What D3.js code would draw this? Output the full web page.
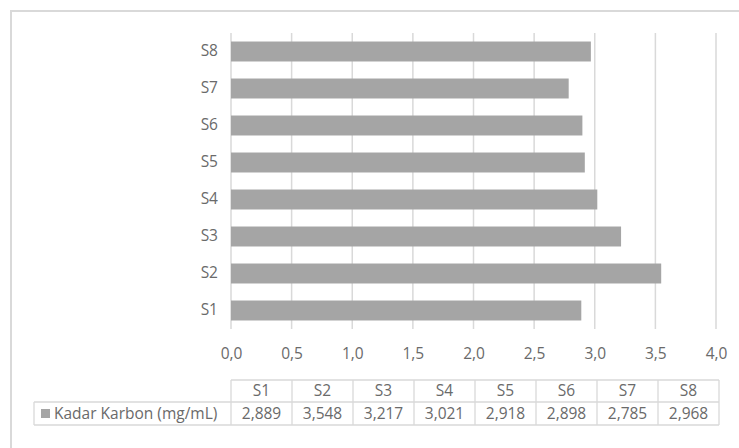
<!DOCTYPE html>
<html>
<head>
<meta charset="utf-8">
<script src="https://cdn.jsdelivr.net/npm/d3@7/dist/d3.min.js"></script>
<style>
  html, body { margin: 0; padding: 0; background: #fff; }
  svg { display: block; font-family: "Open Sans", Lato, "Liberation Sans", sans-serif; }
</style>
</head>
<body>
<svg id="chart" width="739" height="448"></svg>
<script>
// Sample labels and measured carbon content (mg/mL)
const categories = ["S1", "S2", "S3", "S4", "S5", "S6", "S7", "S8"];
const values = [2.889, 3.548, 3.217, 3.021, 2.918, 2.898, 2.785, 2.968];
const valueLabels = ["2,889", "3,548", "3,217", "3,021", "2,918", "2,898", "2,785", "2,968"];
const xTicks = [0, 0.5, 1, 1.5, 2, 2.5, 3, 3.5, 4];
const seriesName = "Kadar Karbon (mg/mL)";

const svg = d3.select("#chart");
const gridColor = "#d9d9d9";
const textColor = "#6a6a6a";
const barColor = "#a5a5a5";
const fontSize = "15.5px";

// Chart frame
svg.append("rect")
  .attr("x", 11).attr("y", 11)
  .attr("width", 800).attr("height", 500)
  .attr("fill", "none")
  .attr("stroke", gridColor)
  .attr("stroke-width", 2);

const plot = { left: 231, right: 716, top: 33, bottom: 329 };

const x = d3.scaleLinear().domain([0, 4]).range([plot.left, plot.right]);
const y = d3.scaleBand()
  .domain(categories.slice().reverse())
  .range([plot.top, plot.bottom])
  .paddingInner(0.46)
  .paddingOuter(0.23);

// Vertical gridlines
svg.append("g")
  .selectAll("line")
  .data(xTicks)
  .join("line")
  .attr("x1", d => x(d)).attr("x2", d => x(d))
  .attr("y1", plot.top).attr("y2", plot.bottom)
  .attr("stroke", gridColor)
  .attr("stroke-width", 1.5);

// Bars
svg.append("g")
  .selectAll("rect")
  .data(categories.map((c, i) => ({ c, v: values[i] })))
  .join("rect")
  .attr("x", x(0))
  .attr("y", d => y(d.c))
  .attr("width", d => x(d.v) - x(0))
  .attr("height", y.bandwidth())
  .attr("fill", barColor);

// Category axis labels
const yAxis = svg.append("g")
  .attr("transform", `translate(${plot.left - 13},0)`)
  .call(d3.axisLeft(y).tickSize(0).tickPadding(0));
yAxis.select(".domain").remove();
yAxis.selectAll("text")
  .attr("fill", textColor)
  .style("font-size", fontSize)
  .style("font-family", "'Open Sans', sans-serif");

// Value axis labels
const fmt = d => d3.format(".1f")(d).replace(".", ",");
const xAxis = svg.append("g")
  .attr("transform", `translate(0,${plot.bottom + 19})`)
  .call(d3.axisBottom(x).tickValues(xTicks).tickFormat(fmt).tickSize(0).tickPadding(0));
xAxis.select(".domain").remove();
xAxis.selectAll("text")
  .attr("fill", textColor)
  .style("font-size", fontSize)
  .style("font-family", "'Open Sans', sans-serif");

// Data table beneath the chart
const table = { top: 380, mid: 402, bottom: 425, legendLeft: 34 };
const colW = (x(4) - x(0) + 3) / categories.length;
const colX = i => plot.left + i * colW;
const tg = svg.append("g");

const lineAttr = sel => sel.attr("stroke", gridColor).attr("stroke-width", 1.3).attr("fill", "none");

// Header row outline
tg.append("line").call(lineAttr)
  .attr("x1", plot.left).attr("x2", colX(categories.length))
  .attr("y1", table.top).attr("y2", table.top);
// Row divider and bottom line (including the legend cell)
tg.append("line").call(lineAttr)
  .attr("x1", table.legendLeft).attr("x2", colX(categories.length))
  .attr("y1", table.mid).attr("y2", table.mid);
tg.append("line").call(lineAttr)
  .attr("x1", table.legendLeft).attr("x2", colX(categories.length))
  .attr("y1", table.bottom).attr("y2", table.bottom);
// Legend cell left edge
tg.append("line").call(lineAttr)
  .attr("x1", table.legendLeft).attr("x2", table.legendLeft)
  .attr("y1", table.mid).attr("y2", table.bottom);
// Column separators
tg.selectAll("line.col")
  .data(d3.range(categories.length + 1))
  .join("line")
  .attr("class", "col")
  .call(lineAttr)
  .attr("x1", i => colX(i)).attr("x2", i => colX(i))
  .attr("y1", table.top).attr("y2", table.bottom);

// Header texts
tg.selectAll("text.head")
  .data(categories)
  .join("text")
  .attr("class", "head")
  .attr("x", (d, i) => colX(i) + colW / 2)
  .attr("y", (table.top + table.mid) / 2)
  .attr("dy", "0.35em")
  .attr("text-anchor", "middle")
  .attr("fill", textColor)
  .style("font-size", fontSize)
  .text(d => d);

// Value texts
tg.selectAll("text.val")
  .data(valueLabels)
  .join("text")
  .attr("class", "val")
  .attr("x", (d, i) => colX(i) + colW / 2)
  .attr("y", (table.mid + table.bottom) / 2)
  .attr("dy", "0.35em")
  .attr("text-anchor", "middle")
  .attr("fill", textColor)
  .style("font-size", fontSize)
  .text(d => d);

// Legend key and series name
tg.append("rect")
  .attr("x", 41).attr("y", (table.mid + table.bottom) / 2 - 4.5)
  .attr("width", 9).attr("height", 9)
  .attr("fill", barColor);
tg.append("text")
  .attr("x", 54)
  .attr("y", (table.mid + table.bottom) / 2)
  .attr("dy", "0.35em")
  .attr("fill", textColor)
  .style("font-size", fontSize)
  .text(seriesName);
</script>
</body>
</html>
